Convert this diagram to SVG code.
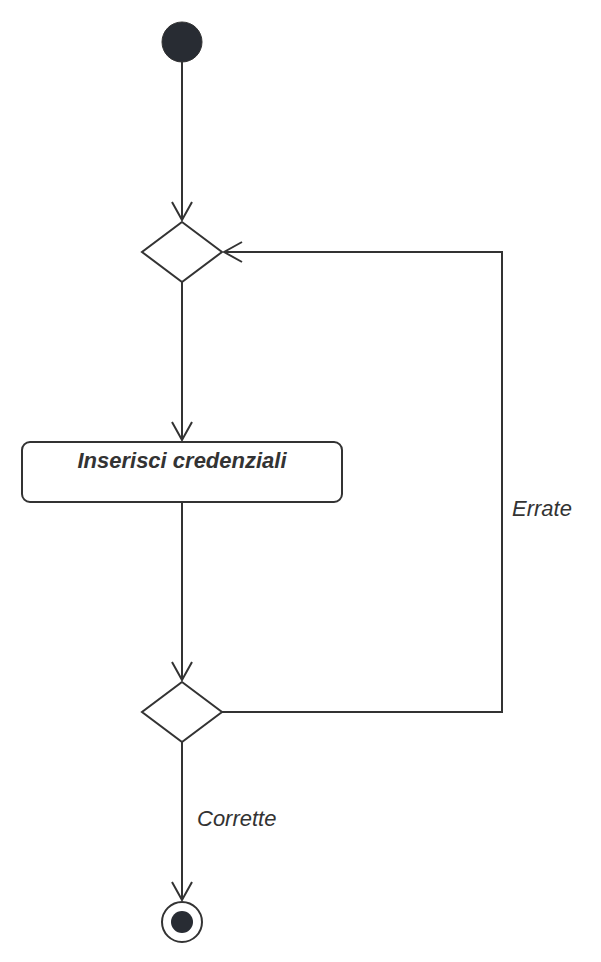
<svg xmlns="http://www.w3.org/2000/svg" width="601" height="962" viewBox="0 0 601 962">
<style>
.ln{fill:none;stroke:#333333;stroke-width:2}
.sh{fill:#ffffff;stroke:#333333;stroke-width:2}
.t{font-family:"Liberation Sans",Arial,sans-serif;font-style:italic;fill:#333333;font-size:22px}
</style>
<defs>
<marker id="arr" viewBox="0 0 20 24" refX="19" refY="12" markerWidth="20" markerHeight="24" markerUnits="userSpaceOnUse" orient="auto">
<path d="M1,2 L19,12 L1,22" fill="none" stroke="#333333" stroke-width="2"/>
</marker>
</defs>
<rect width="601" height="962" fill="#ffffff"/>
<g id="connectors">
<path class="ln" d="M182,62 L182,220" marker-end="url(#arr)"/>
<path class="ln" d="M182,282 L182,440" marker-end="url(#arr)"/>
<path class="ln" d="M182,502 L182,680" marker-end="url(#arr)"/>
<path class="ln" d="M182,742 L182,900" marker-end="url(#arr)"/>
<path class="ln" d="M222,712 L502,712 L502,252 L224,252" marker-end="url(#arr)"/>
<text class="t" x="512" y="516">Errate</text>
<text class="t" x="197" y="826">Corrette</text>
</g>
<g id="start"><circle cx="182" cy="42" r="20" fill="#282c33" stroke="#333333" stroke-width="1"/></g>
<g id="decision1"><polygon class="sh" points="182,222 222,252 182,282 142,252"/></g>
<g id="inserisci">
<rect class="sh" x="22" y="442" width="320" height="60" rx="8" ry="8"/>
<text class="t" x="182" y="468" text-anchor="middle" font-weight="bold">Inserisci credenziali</text>
</g>
<g id="decision2"><polygon class="sh" points="182,682 222,712 182,742 142,712"/></g>
<g id="end">
<circle cx="182" cy="922" r="20" fill="#ffffff" stroke="#333333" stroke-width="2"/>
<circle cx="182" cy="922" r="11" fill="#282c33"/>
</g>
</svg>
